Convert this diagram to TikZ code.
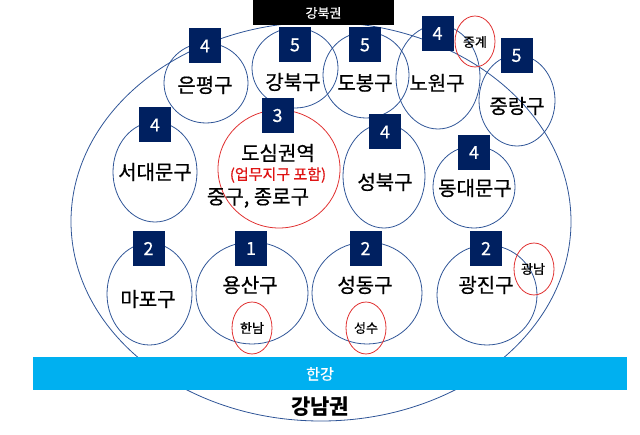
\documentclass[tikz,border=0pt]{standalone}
\usepackage{fontspec}
\setmainfont{Noto Sans CJK KR}
\newfontfamily\medfont{Noto Sans CJK KR}[FakeBold=0.6]
\usetikzlibrary{shapes.geometric}
\definecolor{distblue}{RGB}{47,85,151}
\definecolor{navybox}{RGB}{0,32,96}
\definecolor{hotred}{RGB}{224,50,50}
\definecolor{river}{RGB}{0,176,240}
\definecolor{redtext}{RGB}{222,20,20}
\begin{document}
\begin{tikzpicture}[x=1pt,y=-1pt,
  distell/.style={ellipse, draw=distblue, line width=0.8pt, inner sep=0pt},
  hotell/.style={ellipse, draw=hotred, line width=0.8pt, inner sep=0pt},
  numbox/.style={fill=navybox, text=white, minimum width=32pt, minimum height=35pt, inner sep=0pt, font=\medfont\fontsize{18}{18}\selectfont},
  distname/.style={inner sep=0pt, font=\medfont\fontsize{20}{20}\selectfont},
  smalllabel/.style={inner sep=0pt, font=\medfont\fontsize{13}{13}\selectfont}]
\useasboundingbox (0,0) rectangle (640,435);
% big region ellipse
\node[distell, minimum width=500pt, minimum height=399pt] (seoul) at (321,221.5) {};
% district ellipses
\node[distell, minimum width=84pt, minimum height=80pt] (eunpyeong) at (206,83) {};
\node[distell, minimum width=86pt, minimum height=80pt] (gangbuk) at (295,68) {};
\node[distell, minimum width=86pt, minimum height=86pt] (dobong) at (366,75) {};
\node[distell, minimum width=84pt, minimum height=104pt] (nowon) at (438,77) {};
\node[distell, minimum width=76pt, minimum height=91pt] (jungnang) at (517,100.5) {};
\node[distell, minimum width=84pt, minimum height=100pt] (seodaemun) at (155,172) {};
\node[distell, minimum width=82pt, minimum height=104pt] (seongbuk) at (384,176) {};
\node[distell, minimum width=82pt, minimum height=82pt] (dongdaemun) at (474,187) {};
\node[distell, minimum width=85pt, minimum height=102pt] (mapo) at (149.5,294) {};
\node[distell, minimum width=112pt, minimum height=102pt] (yongsan) at (252,293) {};
\node[distell, minimum width=110pt, minimum height=102pt] (seongdong) at (367,293) {};
\node[distell, minimum width=100pt, minimum height=100pt] (gwangjin) at (487,295) {};
% red ellipses
\node[hotell, minimum width=122pt, minimum height=118pt] (dosim) at (279,169) {};
\node[hotell, minimum width=40pt, minimum height=51pt] (junggye) at (475,41.5) {};
\node[hotell, minimum width=40pt, minimum height=52pt] (hannam) at (252,328) {};
\node[hotell, minimum width=40pt, minimum height=52pt] (seongsu) at (366,328) {};
\node[hotell, minimum width=40pt, minimum height=52pt] (gwangnam) at (534,269) {};
% number boxes
\node[numbox] (n-eunpyeong) at (205,46) {4};
\node[numbox] (n-gangbuk) at (295,45) {5};
\node[numbox] (n-dobong) at (365,45) {5};
\node[numbox] (n-nowon) at (437.5,33.5) {4};
\node[numbox] (n-jungnang) at (516.5,55.5) {5};
\node[numbox] (n-dosim) at (277.5,115.5) {3};
\node[numbox] (n-seodaemun) at (155,125) {4};
\node[numbox] (n-seongbuk) at (385,132) {4};
\node[numbox] (n-dongdaemun) at (474,152.5) {4};
\node[numbox] (n-mapo) at (148.5,248.5) {2};
\node[numbox] (n-yongsan) at (251,248.5) {1};
\node[numbox] (n-seongdong) at (365.5,248.5) {2};
\node[numbox] (n-gwangjin) at (486,248.5) {2};
% top and river bars
\node[fill=black, text=white, minimum width=141pt, minimum height=25pt, inner sep=0pt, font=\medfont\fontsize{13}{13}\selectfont] (gangbukgwon) at (323.5,13) {강북권};
\node[fill=river, minimum width=594pt, minimum height=33pt, inner sep=0pt] (hangang) at (330,373.5) {};
\node[text=white, inner sep=0pt, font=\medfont\fontsize{15}{15}\selectfont] (t-hangang) at (320,374) {한강};
\node[inner sep=0pt, font=\fontsize{21}{21}\selectfont\bfseries] (gangnamgwon) at (320,407) {강남권};
% district names
\node[distname] (t-eunpyeong) at (205,85) {은평구};
\node[distname] (t-gangbuk) at (293,82) {강북구};
\node[distname] (t-dobong) at (365,83) {도봉구};
\node[distname] (t-nowon) at (437,83) {노원구};
\node[distname] (t-jungnang) at (517,106) {중랑구};
\node[distname] (t-seodaemun) at (155,172) {서대문구};
\node[distname] (t-dosim) at (278,153) {도심권역};
\node[inner sep=0pt, text=redtext, font=\medfont\fontsize{15}{15}\selectfont] (t-dosimsub) at (278,175) {(업무지구 포함)};
\node[distname] (t-junggu) at (258,198) {중구, 종로구};
\node[distname] (t-seongbuk) at (385,182) {성북구};
\node[distname] (t-dongdaemun) at (475,188) {동대문구};
\node[distname] (t-mapo) at (148,299) {마포구};
\node[distname] (t-yongsan) at (250,285) {용산구};
\node[distname] (t-seongdong) at (365,285) {성동구};
\node[distname] (t-gwangjin) at (486,285) {광진구};
% small labels
\node[smalllabel] (t-junggye) at (475,42) {중계};
\node[smalllabel] (t-hannam) at (252,328) {한남};
\node[smalllabel] (t-seongsu) at (366,328) {성수};
\node[smalllabel] (t-gwangnam) at (533,269) {광남};
\end{tikzpicture}
\end{document}
